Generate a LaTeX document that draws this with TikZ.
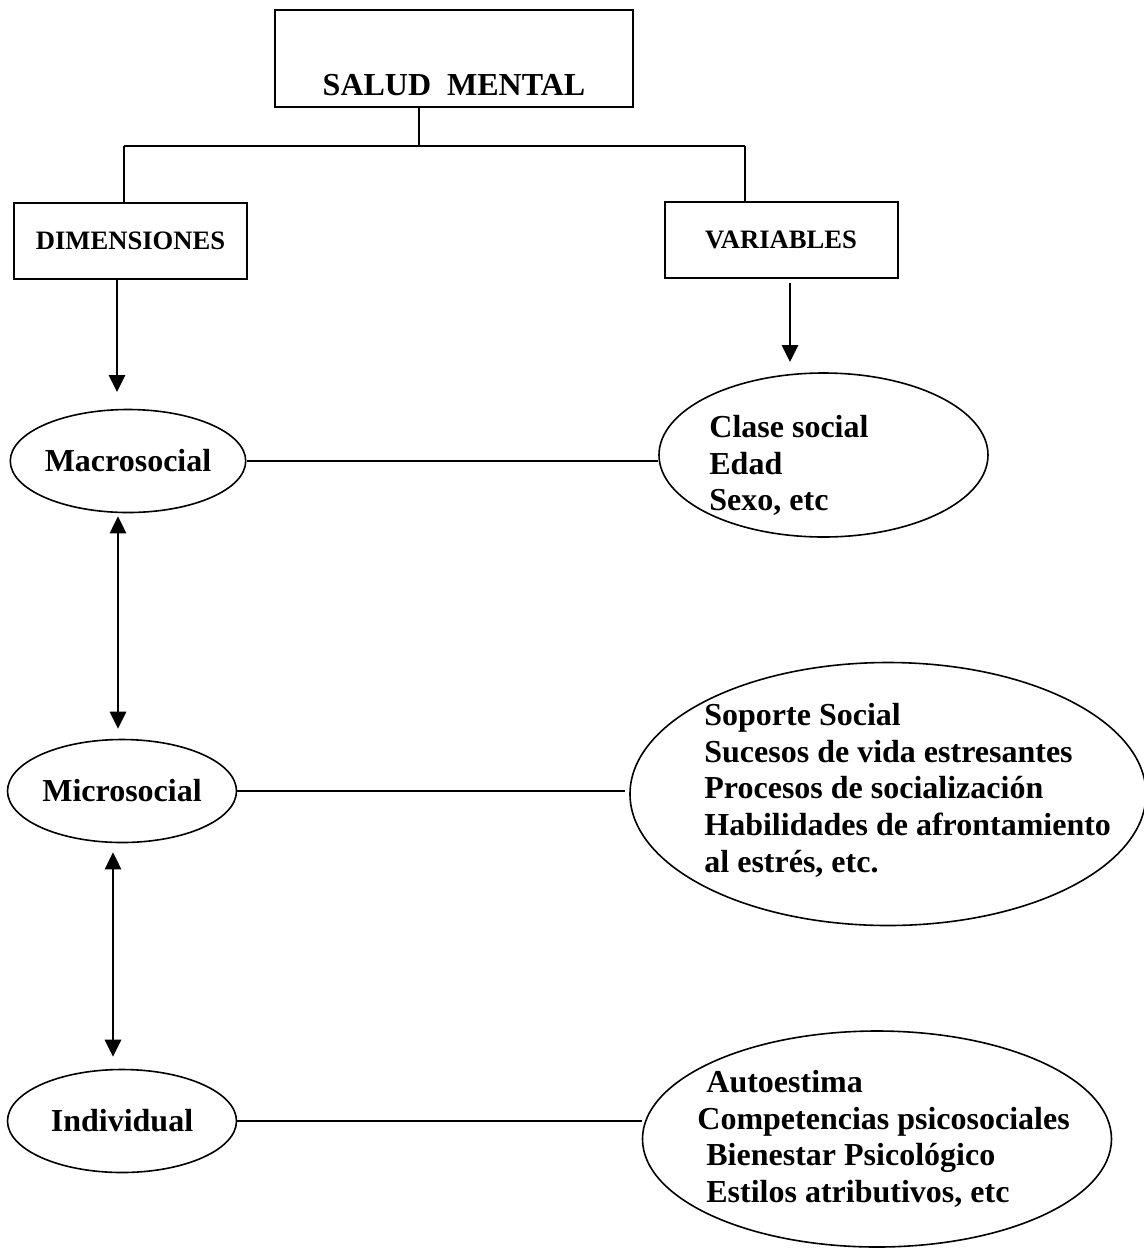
\documentclass[tikz,border=0pt]{standalone}
\usepackage{fontspec}
\setmainfont{Liberation Serif}
\usetikzlibrary{shapes.geometric, arrows.meta}
\tikzstyle{titlebox} = [rectangle, draw=black, line width=1pt, inner sep=0pt, minimum width=179pt, minimum height=48.5pt, text height=42.5pt, text depth=6pt, font=\bfseries\fontsize{16}{18.3}\selectfont]
\tikzstyle{headbox} = [rectangle, draw=black, line width=1pt, inner sep=0pt, minimum width=116.5pt, minimum height=38pt, font=\bfseries\fontsize{13.3}{16}\selectfont]
\tikzstyle{dimcloud} = [ellipse, draw=black, line width=0.8pt, inner sep=0pt, minimum width=114.5pt, minimum height=51.5pt, font=\bfseries\fontsize{16}{18.3}\selectfont]
\tikzstyle{varcloud} = [ellipse, draw=black, line width=0.8pt, inner sep=0pt]
\tikzstyle{items} = [anchor=north west, inner sep=0pt, align=left, font=\bfseries\fontsize{16}{18.3}\selectfont]
\tikzstyle{conn} = [line width=0.8pt]
\tikzstyle{arrow} = [line width=1.4pt, -{Triangle[width=8pt,length=8.5pt]}]
\tikzstyle{twoway} = [line width=1.4pt, {Triangle[width=8pt,length=8.5pt]}-{Triangle[width=8pt,length=8.5pt]}]
\begin{document}
\begin{tikzpicture}[x=0.5pt, y=-0.5pt]
	\useasboundingbox (0,0) rectangle (1144,1250);
	
	\node (salud) [titlebox] at (454,58.5) {SALUD\ \ MENTAL};
	
	\node (dim) [headbox] at (130.5,241) {DIMENSIONES};
	\node (var) [headbox] at (781,240) {VARIABLES};
	
	\node (macro) [dimcloud] at (128,461) {Macrosocial};
	\node (micro) [dimcloud] at (122,791) {Microsocial};
	\node (indiv) [dimcloud] at (122,1121) {Individual};
	
	\node (clase) [varcloud, minimum width=164.5pt, minimum height=82pt] at (823.5,455) {};
	\node (sop) [varcloud, minimum width=258pt, minimum height=131.5pt] at (888,794) {};
	\node (auto) [varcloud, minimum width=234.5pt, minimum height=108pt] at (877,1139) {};
	
	\node (clasetxt) [items] at (709,415) {Clase social\\Edad\\Sexo, etc};
	\node (soptxt) [items] at (704,703) {Soporte Social\\Sucesos de vida estresantes\\Procesos de socialización\\Habilidades de afrontamiento\\al estrés, etc.};
	\node (autotxt) [items] at (706,1070) {Autoestima\\\hspace*{-4.5pt}Competencias psicosociales\\Bienestar Psicológico\\Estilos atributivos, etc};
	
	% bracket under the title
	\coordinate (stem) at (419,146);
	\coordinate (brL) at (124,146);
	\coordinate (brR) at (745,146);
	\draw [conn] (salud.south -| stem) -- (stem);
	\draw [conn] (brL) -- (brR);
	\draw [conn] (brL) -- (dim.north -| brL);
	\draw [conn] (brR) -- (var.north -| brR);
	
	\coordinate (dimtip) at (117,392);
	\coordinate (vartip) at (790,362);
	\draw [arrow] (dim.south -| dimtip) -- (dimtip);
	\draw [arrow, shorten <=2pt] (var.south -| vartip) -- (vartip);
	
	\coordinate (colA) at (118,0);
	\coordinate (colB) at (113,0);
	\draw [twoway, shorten <=1.5pt, shorten >=5pt] (macro.south -| colA) -- (micro.north -| colA);
	\draw [twoway, shorten <=4.5pt, shorten >=6pt] (micro.south -| colB) -- (indiv.north -| colB);
	
	\draw [conn] (macro.east) -- (macro.east -| clase.west);
	\draw [conn, shorten >=2pt] (micro.east) -- (micro.east -| sop.west);
	\draw [conn] (indiv.east) -- (indiv.east -| auto.west);
\end{tikzpicture}
\end{document}
